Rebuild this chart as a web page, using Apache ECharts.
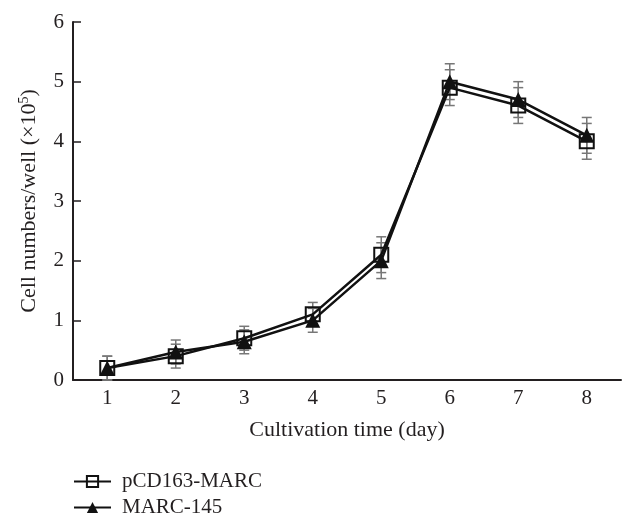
<!DOCTYPE html>
<html>
<head>
<meta charset="utf-8">
<script src="https://cdn.jsdelivr.net/npm/echarts@6/dist/echarts.min.js"></script>
<style>
html,body{margin:0;padding:0;background:#fff;}
#chart{width:636px;height:529px;}
</style>
</head>
<body>
<div id="chart"></div>
<script>
const days = ['1', '2', '3', '4', '5', '6', '7', '8'];
const yTicks = [0, 1, 2, 3, 4, 5, 6];
const pcdValues = [0.2, 0.4, 0.7, 1.1, 2.1, 4.9, 4.6, 4.0];
const pcdErr = [0.2, 0.2, 0.2, 0.2, 0.3, 0.3, 0.3, 0.3];
const marcValues = [0.2, 0.47, 0.64, 1.0, 2.0, 5.0, 4.7, 4.1];
const marcErr = [0.2, 0.2, 0.2, 0.2, 0.3, 0.3, 0.3, 0.3];

const FONT = '"Liberation Serif", "Times New Roman", serif';
const INK = '#231f20';

function errData(vals, errs) {
  return vals.map((v, i) => [i, Math.max(0, v - errs[i]), v + errs[i]]);
}
function renderErr(params, api) {
  const lo = api.coord([api.value(0), api.value(1)]);
  const hi = api.coord([api.value(0), api.value(2)]);
  const hw = 5;
  const st = { stroke: '#777777', lineWidth: 1.5 };
  return {
    type: 'group',
    children: [
      { type: 'line', shape: { x1: lo[0], y1: lo[1], x2: hi[0], y2: hi[1] }, style: st },
      { type: 'line', shape: { x1: lo[0] - hw, y1: lo[1], x2: lo[0] + hw, y2: lo[1] }, style: st },
      { type: 'line', shape: { x1: hi[0] - hw, y1: hi[1], x2: hi[0] + hw, y2: hi[1] }, style: st }
    ]
  };
}

const chart = echarts.init(document.getElementById('chart'), null, { renderer: 'canvas' });
chart.setOption({
  animation: false,
  backgroundColor: '#fff',
  textStyle: { fontFamily: FONT, color: INK },
  grid: { left: 73, right: 15, top: 22, bottom: 149, containLabel: false },
  legend: {
    orient: 'vertical',
    left: 68,
    top: 466,
    itemWidth: 37,
    itemHeight: 14,
    itemGap: 5,
    data: ['pCD163-MARC', 'MARC-145'],
    textStyle: { fontFamily: FONT, fontSize: 21, color: INK, padding: [0, 0, 0, 6] }
  },
  xAxis: {
    type: 'category',
    data: days,
    boundaryGap: true,
    name: 'Cultivation time (day)',
    nameLocation: 'middle',
    nameGap: 39,
    nameTextStyle: { fontFamily: FONT, fontSize: 22, color: INK },
    axisLine: { lineStyle: { color: INK, width: 2 } },
    axisTick: { inside: true, length: 7, lineStyle: { color: INK, width: 1.5 } },
    axisLabel: { fontFamily: FONT, fontSize: 21, color: INK, margin: 8 },
    splitLine: { show: false }
  },
  yAxis: {
    type: 'value',
    min: yTicks[0],
    max: yTicks[yTicks.length - 1],
    interval: 1,
    name: '{a|Cell numbers/well (×10}{s|5}{a|)}',
    nameLocation: 'middle',
    nameGap: 32,
    nameRotate: 90,
    nameTextStyle: {
      rich: {
        a: { fontFamily: FONT, fontSize: 22, color: INK },
        s: { fontFamily: FONT, fontSize: 14, color: INK, verticalAlign: 'top', padding: [0, 0, 10, 0] }
      }
    },
    axisLine: { show: true, lineStyle: { color: INK, width: 2 } },
    axisTick: { show: true, inside: true, length: 8, lineStyle: { color: INK, width: 1.5 } },
    axisLabel: { fontFamily: FONT, fontSize: 21, color: INK, margin: 9 },
    splitLine: { show: false }
  },
  series: [
    {
      type: 'custom',
      name: 'errPCD',
      renderItem: renderErr,
      data: errData(pcdValues, pcdErr),
      z: 1,
      silent: true
    },
    {
      type: 'custom',
      name: 'errMARC',
      renderItem: renderErr,
      data: errData(marcValues, marcErr),
      z: 1,
      silent: true
    },
    {
      name: 'pCD163-MARC',
      type: 'line',
      data: pcdValues,
      symbol: 'rect',
      symbolSize: 14,
      lineStyle: { color: '#111', width: 2.5 },
      itemStyle: { color: 'rgba(255,255,255,0)', borderColor: '#111', borderWidth: 2 },
      z: 3
    },
    {
      name: 'MARC-145',
      type: 'line',
      data: marcValues,
      symbol: 'triangle',
      symbolSize: 15,
      lineStyle: { color: '#111', width: 2.5 },
      itemStyle: { color: '#111', borderColor: '#111', borderWidth: 0 },
      z: 4
    }
  ]
});
</script>
</body>
</html>
